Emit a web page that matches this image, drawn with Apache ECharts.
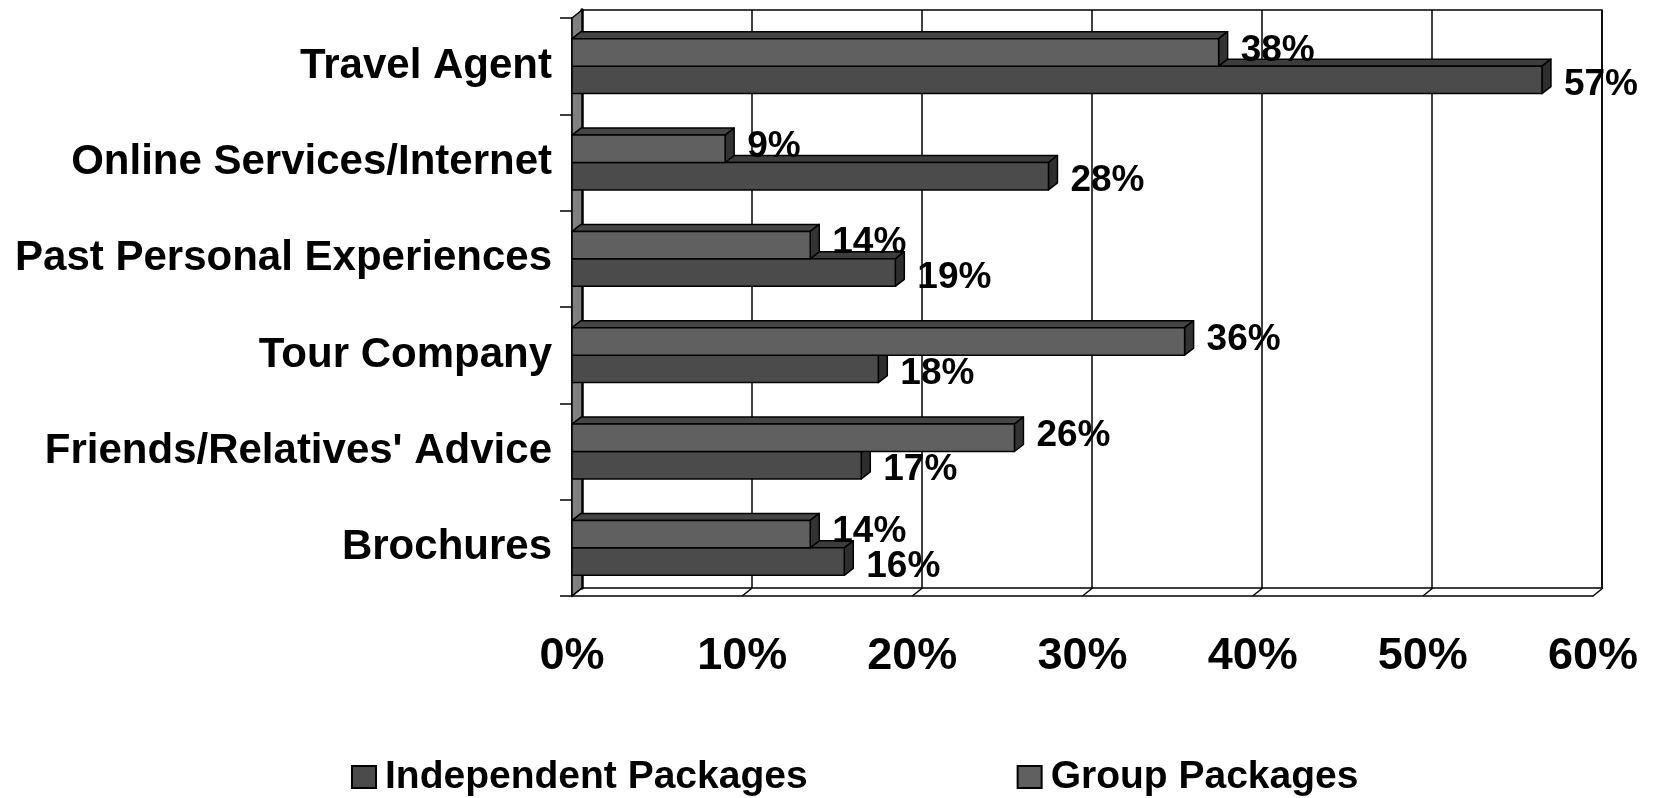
<!DOCTYPE html>
<html>
<head>
<meta charset="utf-8">
<script src="https://cdn.jsdelivr.net/npm/echarts@6/dist/echarts.min.js"></script>
<style>
  html, body { margin: 0; padding: 0; background: #fff; }
  #chart { width: 1660px; height: 798px; }
</style>
</head>
<body>
<div id="chart"></div>
<script>
// 数据
const categories = ['Brochures', "Friends/Relatives' Advice", 'Tour Company', 'Past Personal Experiences', 'Online Services/Internet', 'Travel Agent'];
const independentPackages = [16, 17, 18, 19, 28, 57];
const groupPackages = [14, 26, 36, 14, 9, 38];
const xTicks = [0, 10, 20, 30, 40, 50, 60];

const FONT = 'Liberation Sans';
// 3D 偏移
const WALL_DX = 10, WALL_DY = -8;
const BAR_DX = 9, BAR_DY = -7;

const chart = echarts.init(document.getElementById('chart'));

function barRender(upper, colors) {
  return function (params, api) {
    const v = api.value(0);
    const c = api.value(1);
    const p0 = api.coord([0, c]);
    const p1 = api.coord([v, c]);
    const band = api.size([0, 1])[1];
    const h = band * 0.285;
    const yTop = upper ? p0[1] - h : p0[1];
    const x0 = p0[0], x1 = p1[0];
    const stroke = { stroke: '#000', lineWidth: 1.5, lineJoin: 'round' };
    return {
      type: 'group',
      children: [
        {
          type: 'polygon',
          shape: { points: [[x0, yTop], [x0 + BAR_DX, yTop + BAR_DY], [x1 + BAR_DX, yTop + BAR_DY], [x1, yTop]] },
          style: Object.assign({ fill: colors.top }, stroke)
        },
        {
          type: 'polygon',
          shape: { points: [[x1, yTop], [x1 + BAR_DX, yTop + BAR_DY], [x1 + BAR_DX, yTop + h + BAR_DY], [x1, yTop + h]] },
          style: Object.assign({ fill: colors.side }, stroke)
        },
        {
          type: 'rect',
          shape: { x: x0, y: yTop, width: x1 - x0, height: h },
          style: Object.assign({ fill: colors.front }, stroke)
        },
        {
          type: 'text',
          x: x1 + BAR_DX + 13,
          y: yTop + h / 2 + (upper ? -2 : 5),
          style: {
            text: v + '%',
            fontSize: 37,
            fontWeight: 'bold',
            fontFamily: FONT,
            fill: '#000',
            align: 'left',
            verticalAlign: 'middle'
          }
        }
      ]
    };
  };
}

// 左墙和地面斜线
function decorRender(params, api) {
  const cs = params.coordSys;
  const bottom = cs.y + cs.height;
  const x = api.coord([api.value(0), 0])[0];
  const children = [{
    type: 'line',
    shape: { x1: x, y1: bottom, x2: x + WALL_DX, y2: bottom + WALL_DY },
    style: { stroke: '#000', lineWidth: 1.5 }
  }];
  if (params.dataIndex === 0) {
    children.unshift({
      type: 'polygon',
      shape: { points: [[cs.x, cs.y], [cs.x + WALL_DX, cs.y + WALL_DY], [cs.x + WALL_DX, bottom + WALL_DY], [cs.x, bottom]] },
      style: { fill: '#808080', stroke: '#000', lineWidth: 1.5 }
    });
  }
  return { type: 'group', children: children };
}

const option = {
  backgroundColor: '#fff',
  animation: false,
  grid: [
    // 后墙
    { left: 582, right: 58, top: 10, bottom: 210, show: true, borderColor: '#000', borderWidth: 1.5, backgroundColor: 'transparent' },
    // 前平面
    { left: 572, right: 67, top: 18, bottom: 202 }
  ],
  legend: {
    data: ['Independent Packages', 'Group Packages'],
    left: 346,
    top: 752,
    itemWidth: 24,
    itemHeight: 22,
    itemGap: 209,
    icon: 'rect',
    itemStyle: { borderColor: '#000', borderWidth: 2 },
    textStyle: { fontSize: 39, fontWeight: 'bold', fontFamily: FONT, color: '#000', lineHeight: 40, padding: [0, 0, 0, 4] }
  },
  xAxis: [
    {
      gridIndex: 0, type: 'value', min: 0, max: 60, interval: 10,
      axisLine: { show: false }, axisTick: { show: false }, axisLabel: { show: false },
      splitLine: { show: true, lineStyle: { color: '#000', width: 1.5 } }
    },
    {
      gridIndex: 1, type: 'value', min: 0, max: 60, interval: 10,
      axisLine: { show: true, lineStyle: { color: '#000', width: 1.5 } },
      axisTick: { show: false },
      splitLine: { show: false },
      axisLabel: { formatter: '{value}%', fontSize: 45, fontWeight: 'bold', fontFamily: FONT, color: '#000', margin: 38 }
    }
  ],
  yAxis: [
    {
      gridIndex: 0, type: 'value', position: 'right',
      axisLine: { show: true, lineStyle: { color: '#000', width: 3.5 } },
      axisTick: { show: false }, axisLabel: { show: false }, splitLine: { show: false }
    },
    {
      gridIndex: 1, type: 'category', data: categories,
      axisLine: { show: true, lineStyle: { color: '#000', width: 1.5 } },
      axisTick: { show: true, length: 12, lineStyle: { color: '#000', width: 1.5 } },
      axisLabel: { fontSize: 42, fontWeight: 'bold', fontFamily: FONT, color: '#000', margin: 20 }
    }
  ],
  series: [
    {
      name: 'decor',
      type: 'custom',
      xAxisIndex: 1, yAxisIndex: 1,
      z: 1,
      silent: true,
      renderItem: decorRender,
      data: xTicks.map(t => [t, 0])
    },
    {
      name: 'Independent Packages',
      type: 'custom',
      xAxisIndex: 1, yAxisIndex: 1,
      z: 3,
      itemStyle: { color: '#4b4b4b' },
      renderItem: barRender(false, { front: '#4b4b4b', top: '#3d3d3d', side: '#2e2e2e' }),
      data: independentPackages.map((v, i) => [v, i])
    },
    {
      name: 'Group Packages',
      type: 'custom',
      xAxisIndex: 1, yAxisIndex: 1,
      z: 4,
      itemStyle: { color: '#606060' },
      renderItem: barRender(true, { front: '#606060', top: '#454545', side: '#333333' }),
      data: groupPackages.map((v, i) => [v, i])
    }
  ]
};

chart.setOption(option);
</script>
</body>
</html>
